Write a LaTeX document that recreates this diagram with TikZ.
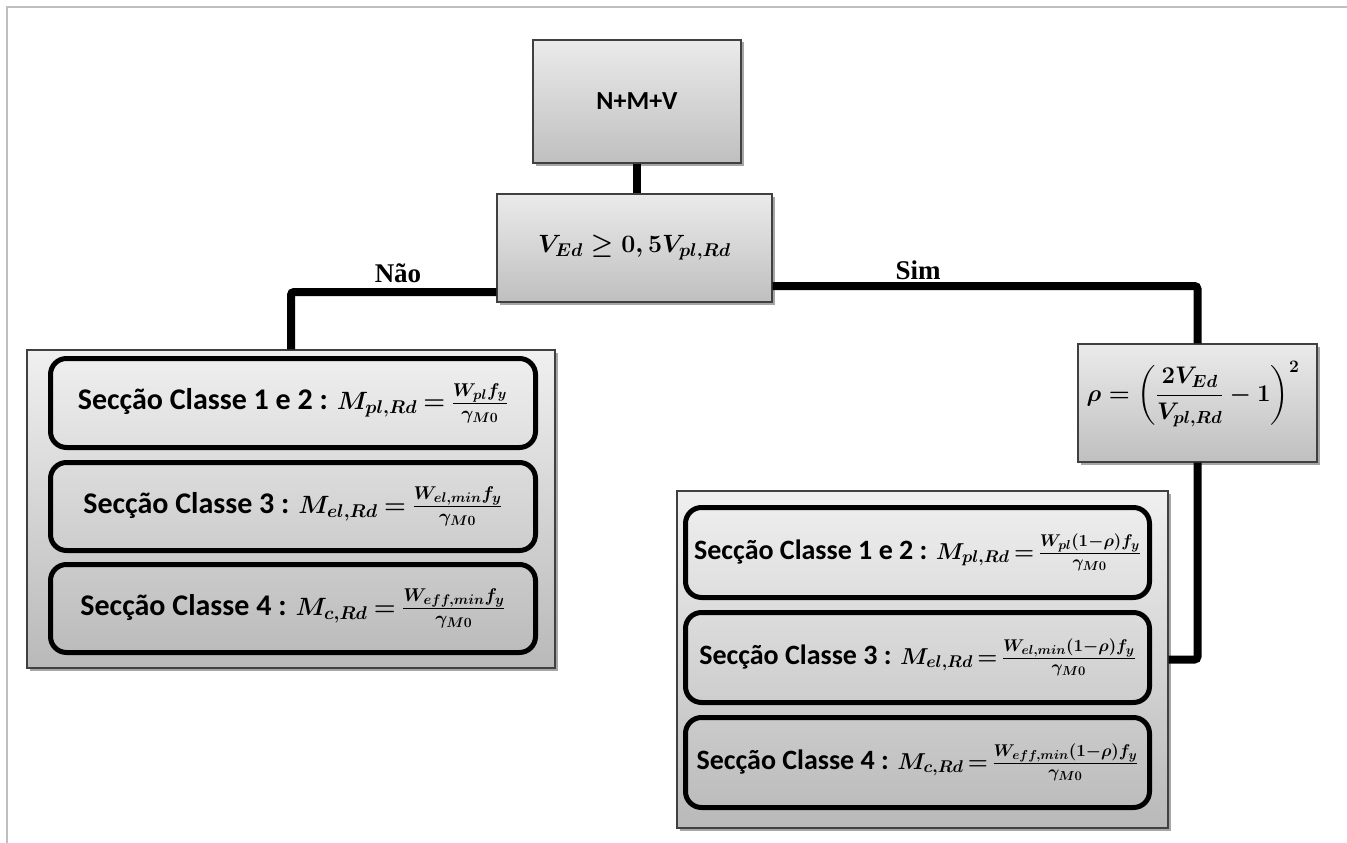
\RequirePackage{fix-cm}
\documentclass[tikz,border=0pt]{standalone}
\usepackage{amsmath}
\usepackage[no-math]{fontspec}
\setmainfont{Carlito}
\newfontfamily\timesf{Liberation Serif}
\usetikzlibrary{shadows}
\DeclareMathSizes{25}{25}{18.5}{14}
\DeclareMathSizes{24}{24}{17.5}{13.5}
\DeclareMathSizes{23}{23}{17}{13}
\newcommand\fmla[1]{{\fontsize{25}{29}\selectfont\thickmuskip=4mu plus 2mu$#1$}}
\newcommand\rfmla[1]{{\fontsize{23}{27}\selectfont\thickmuskip=3mu plus 2mu$#1$}}
\newcommand\bigfmla[1]{{\fontsize{25}{30}\selectfont$#1$}}
\newcommand\rhofmla[1]{{\fontsize{24}{29}\selectfont$#1$}}
\tikzset{
  boxshade/.style={draw=black!75, line width=1.2pt, top color=gray!16, bottom color=gray!50,
    drop shadow={shadow xshift=2.5pt, shadow yshift=-2.5pt, opacity=0.35, fill=black}},
  simplebox/.style={boxshade, rectangle, inner sep=0pt, align=center,
    font=\bfseries\boldmath\fontsize{26}{31}\selectfont},
  groupbox/.style={boxshade, rectangle, inner sep=0pt, top color=gray!12, bottom color=gray!55},
  innerbox/.style={draw=black, line width=5pt, rounded corners=16pt, inner sep=0pt, align=center,
    font=\bfseries\boldmath\fontsize{30}{35}\selectfont},
  rinnerbox/.style={innerbox, font=\bfseries\boldmath\fontsize{28}{33}\selectfont},
  conn/.style={line width=8pt, black, rounded corners=3pt},
  branchlbl/.style={font=\timesf\bfseries\fontsize{27}{32}\selectfont, inner sep=0pt, anchor=base},
  framegray/.style={draw=gray!50, line width=2pt},
}
\begin{document}
\begin{tikzpicture}[x=1pt,y=-1pt]
\useasboundingbox (0,0) rectangle (1347,843);
\draw[framegray] (7,843) -- (7,7) -- (1347,7);

% groups
\node[groupbox, minimum width=528pt, minimum height=318pt] (lg) at (291,509) {};
\node[groupbox, minimum width=491pt, minimum height=337pt] (rg) at (922.5,659.5) {};

% simple boxes
\node[simplebox, minimum width=208pt, minimum height=123pt] (top) at (637,101.5) {N+M+V};
\node[simplebox, minimum width=275pt, minimum height=108pt] (ved) at (634.5,248) {\bigfmla{V_{Ed}\geq 0,5V_{pl,Rd}}};
\node[simplebox, minimum width=239pt, minimum height=118pt] (rho) at (1197.5,403) {};
\node[font=\bfseries\boldmath] (rhotxt) at (1193,394) {\rhofmla{\displaystyle\rho=\left(\frac{2V_{Ed}}{V_{pl,Rd}}-1\right)^{2}}};

% left inner boxes
\node[innerbox, minimum width=485pt, minimum height=89pt] (l1) at (293,403) {Secção Classe 1 e 2 : \fmla{M_{pl,Rd}=\frac{W_{pl}f_y}{\gamma_{M0}}}};
\node[innerbox, minimum width=485pt, minimum height=88pt] (l2) at (293,506.5) {Secção Classe 3 : \fmla{M_{el,Rd}=\frac{W_{el,min}f_y}{\gamma_{M0}}}};
\node[innerbox, minimum width=485pt, minimum height=88pt] (l3) at (293,608.5) {Secção Classe 4 : \fmla{M_{c,Rd}=\frac{W_{eff,min}f_y}{\gamma_{M0}}}};

% right inner boxes
\node[rinnerbox, minimum width=464pt, minimum height=90pt] (r1) at (917.5,552.5) {Secção Classe 1 e 2 : \rfmla{M_{pl,Rd}=\frac{W_{pl}(1-\rho)f_y}{\gamma_{M0}}}};
\node[rinnerbox, minimum width=464pt, minimum height=90pt] (r2) at (917.5,657.5) {Secção Classe 3 : \rfmla{M_{el,Rd}=\frac{W_{el,min}(1-\rho)f_y}{\gamma_{M0}}}};
\node[rinnerbox, minimum width=464pt, minimum height=90pt] (r3) at (917.5,762.5) {Secção Classe 4 : \rfmla{M_{c,Rd}=\frac{W_{eff,min}(1-\rho)f_y}{\gamma_{M0}}}};

% connectors
\draw[conn] (top.south) -- (top.south |- ved.north);
\draw[conn] ([yshift=-44pt]ved.west) -| (lg.north);
\draw[conn] ([yshift=-38pt]ved.east) -| (rho.north);
\draw[conn] (rho.south) |- (rg.east);

% branch labels
\node[branchlbl] (nao) at (398,282) {Não};
\node[branchlbl] (sim) at (918,279) {Sim};
\end{tikzpicture}
\end{document}
